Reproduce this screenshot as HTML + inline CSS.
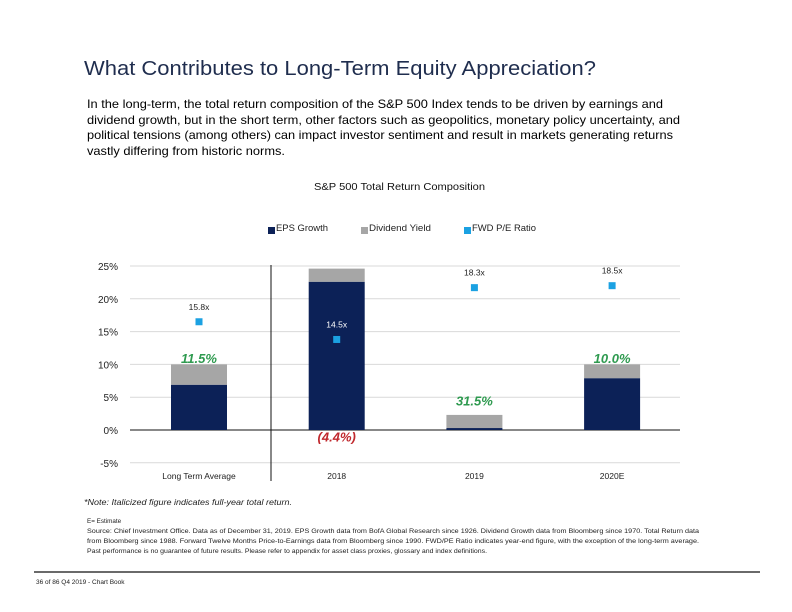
<!DOCTYPE html>
<html><head><meta charset="utf-8"><style>
body{margin:0;width:792px;height:612px;background:#fff;overflow:hidden;font-family:"Liberation Sans",sans-serif}
svg{display:block}
</style></head><body>
<svg width="792" height="612" viewBox="0 0 792 612" id="s">
<text x="84" y="75" font-size="20" fill="#1f2d4e" textLength="512" lengthAdjust="spacingAndGlyphs">What Contributes to Long-Term Equity Appreciation?</text>
<g font-size="12" fill="#000">
<text x="87" y="108" textLength="576" lengthAdjust="spacingAndGlyphs">In the long-term, the total return composition of the S&amp;P 500 Index tends to be driven by earnings and</text>
<text x="87" y="124" textLength="593" lengthAdjust="spacingAndGlyphs">dividend growth, but in the short term, other factors such as geopolitics, monetary policy uncertainty, and</text>
<text x="87" y="139" textLength="586" lengthAdjust="spacingAndGlyphs">political tensions (among others) can impact investor sentiment and result in markets generating returns</text>
<text x="87" y="155" textLength="198" lengthAdjust="spacingAndGlyphs">vastly differing from historic norms.</text>
</g>
<text x="314" y="190" font-size="10.5" fill="#111" textLength="171" lengthAdjust="spacingAndGlyphs">S&amp;P 500 Total Return Composition</text>
<g font-size="9.5" fill="#222">
<rect x="268" y="227" width="7" height="7" fill="#0c2157"/><text x="276" y="231" textLength="52" lengthAdjust="spacingAndGlyphs">EPS Growth</text>
<rect x="361" y="227" width="7" height="7" fill="#a6a6a6"/><text x="369" y="231" textLength="62" lengthAdjust="spacingAndGlyphs">Dividend Yield</text>
<rect x="464" y="227" width="7" height="7" fill="#1ba1e2"/><text x="472" y="231" textLength="64" lengthAdjust="spacingAndGlyphs">FWD P/E Ratio</text>
</g>
<g id="chart"></g>
<text x="84" y="505" font-size="8.5" font-style="italic" fill="#222" textLength="208" lengthAdjust="spacingAndGlyphs">*Note: Italicized figure indicates full-year total return.</text>
<g font-size="6.3" fill="#222">
<text x="87" y="523">E= Estimate</text>
<text x="87" y="533" textLength="612" lengthAdjust="spacingAndGlyphs">Source: Chief Investment Office. Data as of December 31, 2019. EPS Growth data from BofA Global Research since 1926. Dividend Growth data from Bloomberg since 1970. Total Return data</text>
<text x="87" y="543" textLength="612" lengthAdjust="spacingAndGlyphs">from Bloomberg since 1988. Forward Twelve Months Price-to-Earnings data from Bloomberg since 1990. FWD/PE Ratio indicates year-end figure, with the exception of the long-term average.</text>
<text x="87" y="553" textLength="400" lengthAdjust="spacingAndGlyphs">Past performance is no guarantee of future results. Please refer to appendix for asset class proxies, glossary and index definitions.</text>
</g>
<line x1="34" y1="572" x2="760" y2="572" stroke="#111" stroke-width="1.3"/>
<text x="36" y="584" font-size="6.5" fill="#222">36 of 86 Q4 2019 - Chart Book</text>
</svg>
<script>
const categories=["Long Term Average","2018","2019","2020E"];
const epsGrowth=[6.9,22.6,0.3,7.9];
const dividendYield=[3.1,2.0,2.0,2.1];
const pePosition=[16.5,13.8,21.7,22.0];
const peLabels=["15.8x","14.5x","18.3x","18.5x"];
const totalReturnLabels=["11.5%","(4.4%)","31.5%","10.0%"];
const totalReturnPos=[11.0,-1.0,4.5,11.0];
const totalReturnColors=["#2e9a4f","#c0282d","#2e9a4f","#2e9a4f"];
const yTicks=[25,20,15,10,5,0,-5];

const NS="http://www.w3.org/2000/svg";
const g=document.getElementById('chart');
const y=v=>430-v*6.56;
const cx=i=>199+i*137.7;
const bw=56;
function mk(t,a){const e=document.createElementNS(NS,t);for(const k in a)e.setAttribute(k,a[k]);g.appendChild(e);return e;}
yTicks.forEach(t=>{
 const l=mk('line',{x1:130,x2:680,y1:y(t),y2:y(t),stroke:t===0?'#111':'#d9d9d9','stroke-width':1});
 
 
 const tx=mk('text',{x:118,y:y(t)+4,'font-size':10,fill:'#222','text-anchor':'end'});tx.textContent=t+'%';
 
 
});
const dv=mk('line',{x1:271,x2:271,y1:265,y2:481,stroke:'#111','stroke-width':1});


categories.forEach((c,i)=>{
 const x=cx(i)-bw/2;
 const e=mk('rect',{x:x,y:y(epsGrowth[i]),width:bw,height:y(0)-y(epsGrowth[i]),fill:'#0c2157'});
 
 
 const top=epsGrowth[i]+dividendYield[i];
 const d=mk('rect',{x:x,y:y(top),width:bw,height:y(epsGrowth[i])-y(top),fill:'#a6a6a6'});
 
 
 const p=mk('rect',{x:cx(i)-3.5,y:y(pePosition[i])-3.5,width:7,height:7,fill:'#1ba1e2'});
 
 
 const ly=y(pePosition[i])-12;
 const inside=ly>y(top)&&ly<y(0);
 const pl=mk('text',{x:cx(i),y:ly,'font-size':8.5,fill:inside?'#fff':'#222','text-anchor':'middle'});pl.textContent=peLabels[i];
 
 
 const tr=mk('text',{x:cx(i),y:y(totalReturnPos[i])+5,'font-size':13,'font-style':'italic','font-weight':'bold',fill:totalReturnColors[i],'text-anchor':'middle'});tr.textContent=totalReturnLabels[i];
 
 
 const cl=mk('text',{x:cx(i),y:479,'font-size':8.5,fill:'#222','text-anchor':'middle'});cl.textContent=c;
 
 
});
</script>
</body></html>
